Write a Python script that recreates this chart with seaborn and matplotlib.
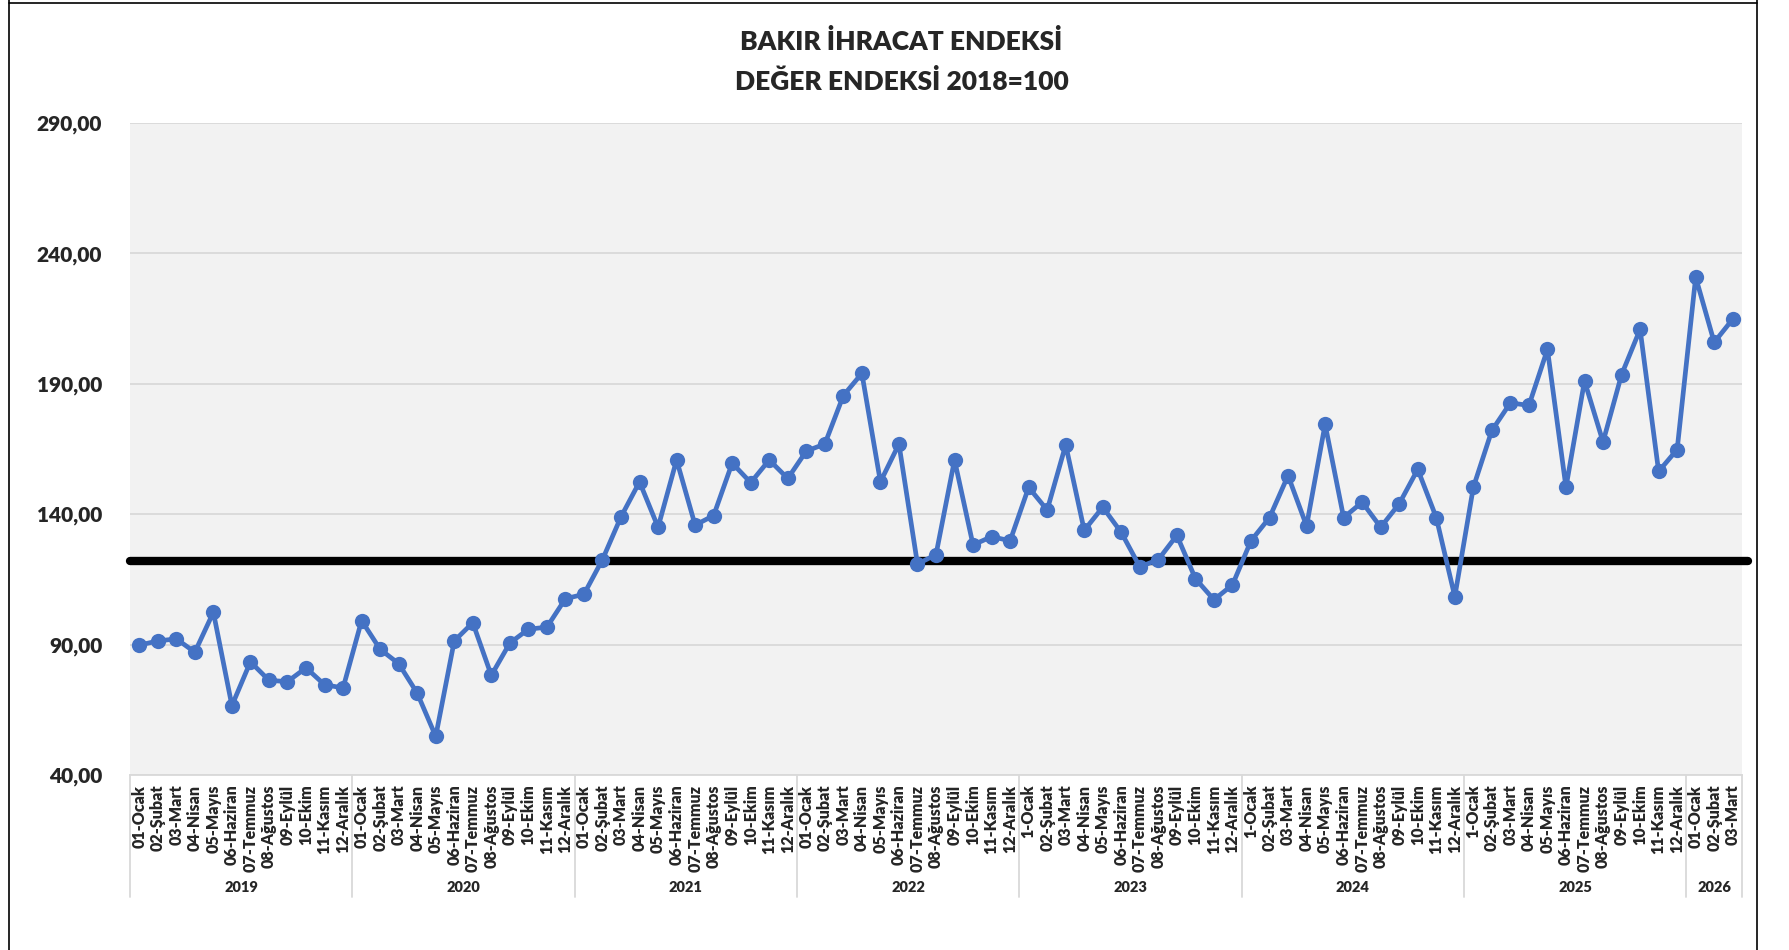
import matplotlib
matplotlib.use("Agg")
import matplotlib.pyplot as plt
import seaborn as sns
import pandas as pd

# index values
years = ["2019", "2020", "2021", "2022", "2023", "2024", "2025", "2026"]
month_names = ["Ocak", "Şubat", "Mart", "Nisan", "Mayıs", "Haziran",
               "Temmuz", "Ağustos", "Eylül", "Ekim", "Kasım", "Aralık"]
# January is written "1-Ocak" for 2023-2025 in the source
jan_prefix = {"2019": "01", "2020": "01", "2021": "01", "2022": "01",
              "2023": "1", "2024": "1", "2025": "1", "2026": "01"}

v2019 = [89.8, 91.4, 92.2, 87.1, 102.4, 66.6, 83.4, 76.3, 75.8, 81.1, 74.6, 73.4]
v2020 = [99.2, 88.2, 82.7, 71.4, 54.8, 91.4, 98.4, 78.2, 90.6, 95.9, 96.7, 107.6]
v2021 = [109.3, 122.6, 139.0, 152.4, 135.0, 160.8, 135.8, 139.5, 159.6, 152.1, 160.8, 153.7]
v2022 = [164.2, 166.9, 185.5, 194.0, 152.4, 166.9, 120.9, 124.5, 160.8, 128.2, 131.4, 129.8]
v2023 = [150.3, 141.6, 166.6, 133.8, 142.7, 133.0, 119.8, 122.6, 131.9, 115.3, 107.2, 112.9]
v2024 = [129.8, 138.7, 154.8, 135.5, 174.5, 138.7, 144.6, 135.0, 144.0, 157.2, 138.7, 108.4]
v2025 = [150.3, 172.1, 182.7, 181.7, 203.2, 150.3, 191.1, 167.7, 193.5, 210.9, 156.4, 164.8]
v2026 = [230.9, 205.9, 214.8]
series = [v2019, v2020, v2021, v2022, v2023, v2024, v2025, v2026]

ref_level = 122.0
y_ticks = [40, 90, 140, 190, 240, 290]

# build long table
rows = []
for yr, vals in zip(years, series):
    for m, v in enumerate(vals):
        num = jan_prefix[yr] if m == 0 else "%02d" % (m + 1)
        rows.append({"year": yr, "label": num + "-" + month_names[m], "value": v})
df = pd.DataFrame(rows)
df["pos"] = range(len(df))

sns.set_style("white")
plt.rcParams["font.family"] = ["Lato", "DejaVu Sans"]

fig = plt.figure(figsize=(17.89, 9.5), dpi=100)
ax = fig.add_axes([130 / 1789, 1 - 775 / 950, (1742 - 130) / 1789, (775 - 123) / 950])
ax.set_facecolor("#F2F2F2")

sns.lineplot(data=df, x="pos", y="value", ax=ax, color="#4472C4", linewidth=3.4,
             marker="o", markersize=11, markeredgewidth=0, zorder=4)
ax.axhline(ref_level, xmin=0, xmax=1.004, color="black", linewidth=6,
           clip_on=False, zorder=3)

ax.set_xlim(-0.5, len(df) - 0.5)
ax.set_ylim(40, 290)
ax.set_yticks(y_ticks)
ax.set_yticklabels(["%d,00" % t for t in y_ticks], fontsize=15, fontweight="heavy")
ax.yaxis.grid(True, color="#D9D9D9", linewidth=1.3)
ax.set_axisbelow(True)

ax.set_xticks(df["pos"])
ax.set_xticklabels(df["label"], rotation=90, fontsize=11.5, fontweight="heavy")
ax.tick_params(axis="x", length=0, pad=7)
ax.tick_params(axis="y", length=0, pad=20)
ax.set_xlabel("")
ax.set_ylabel("")

for s in ["top", "right", "left"]:
    ax.spines[s].set_visible(False)
ax.spines["bottom"].set_color("#D9D9D9")
ax.spines["bottom"].set_linewidth(1.3)

# year groups under the month labels
trans = ax.get_xaxis_transform()
sep_depth = -(897 - 775) / 652
year_y = -(887 - 775) / 652
start = 0
for yr, vals in zip(years, series):
    end = start + len(vals)
    ax.plot([start - 0.5, start - 0.5], [0, sep_depth], transform=trans,
            color="#D9D9D9", linewidth=1.3, clip_on=False)
    ax.text((start + end - 1) / 2, year_y, yr, transform=trans, ha="center",
            va="center", fontsize=10.5, fontweight="heavy")
    start = end
ax.plot([start - 0.5, start - 0.5], [0, sep_depth], transform=trans,
        color="#D9D9D9", linewidth=1.3, clip_on=False)

fig.text(0.504, 1 - 42 / 950, "BAKIR İHRACAT ENDEKSİ", ha="center", va="center",
         fontsize=19, fontweight="heavy")
fig.text(0.504, 1 - 81 / 950, "DEĞER ENDEKSİ 2018=100", ha="center", va="center",
         fontsize=19, fontweight="heavy")

# outer frame of the chart object
for x0, x1, y0, y1 in [(9, 9, 0, 950), (1757, 1757, 0, 950), (9, 1757, 3, 3)]:
    fig.add_artist(plt.Line2D([x0 / 1789, x1 / 1789], [1 - y0 / 950, 1 - y1 / 950],
                              color="black", linewidth=1.2))

fig.savefig("out.png", dpi=100)
